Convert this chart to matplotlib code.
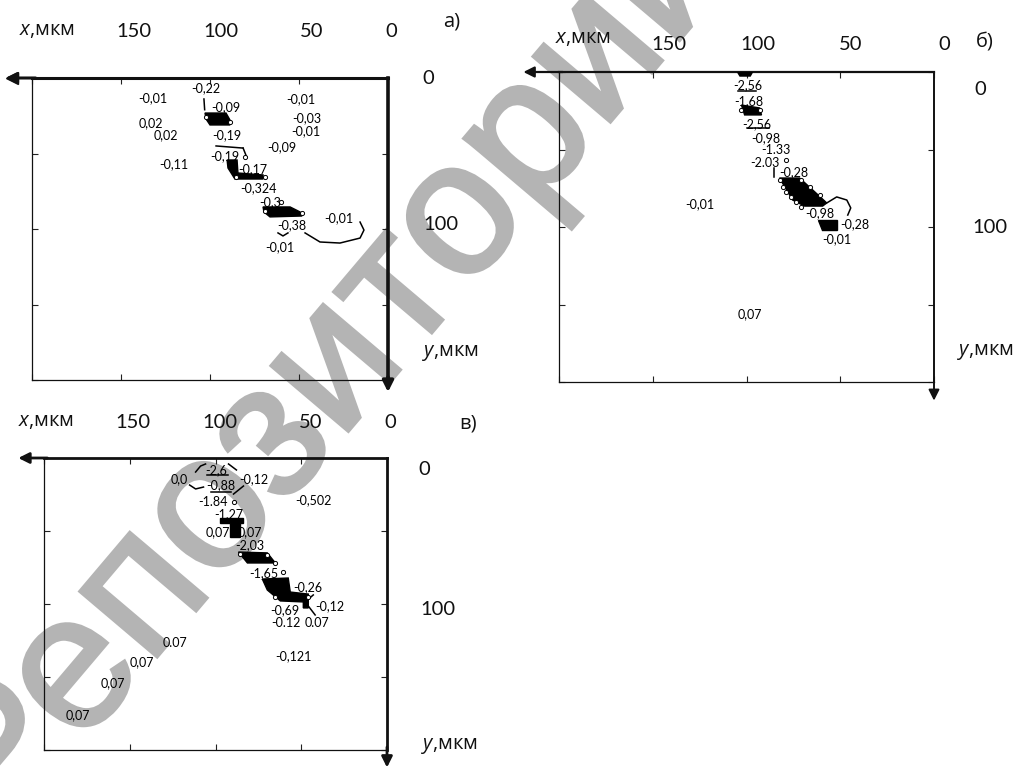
import math
import matplotlib
matplotlib.use("Agg")
import matplotlib.pyplot as plt
import matplotlib.patheffects as pe
from matplotlib.textpath import TextPath
from matplotlib.font_manager import FontProperties

plt.rcParams['font.family'] = ['Lato', 'Open Sans', 'DejaVu Sans']
plt.rcParams['mathtext.fontset'] = 'custom'
plt.rcParams['mathtext.it'] = 'Open Sans:italic'
plt.rcParams['mathtext.rm'] = 'Open Sans'

W, H = 1016, 769
LIMIT = 200
TICKS = [0, 50, 100, 150, 200]

# ---------- panel a ----------
a_label_x = [102.2, 91.0, 132, 48.9, 133.1, 124.7, 45.5, 46.1, 90.4, 59.6, 91.6, 120.2, 75.8, 72.5, 66.3, 53.9, 27.5, 60.7]
a_label_y = [6.6, 19.2, 13.2, 13.9, 29.8, 37.7, 26.5, 35.1, 37.7, 45.7, 51.7, 57, 60.3, 72.8, 82.1, 97.4, 92.7, 111.9]
a_labels = ['-0,22', '-0,09', '-0,01', '-0,01', '0,02', '0,02', '-0,03', '-0,01', '-0,19', '-0,09', '-0,19', '-0,11',
            '-0,17', '-0,324', '-0,3', '-0,38', '-0,01', '-0,01']
a_blobs = [
    ([102.8, 91, 88.8, 88.8, 100, 102.2], [23.2, 23.2, 27.8, 31.1, 31.1, 27.2]),
    ([90.4, 84.8, 84.3, 70.2, 70.2, 86, 89.9], [54.3, 54.3, 62.9, 64.2, 66.9, 66.9, 59.6]),
    ([70.2, 55, 49.4, 48.3, 66.3, 69.7], [85.4, 85.4, 88.7, 91.4, 92, 88.7]),
]
a_curves = [
    ([46.6, 38.2, 27, 15.7, 13.5, 15.7], [102.6, 108.6, 109.3, 106, 100.7, 95.4]),
    ([96.6, 81.5], [45, 46.4]),
    ([61.8, 59, 56.2], [102.6, 104.6, 102.6]),
    ([103.4, 103], [13.9, 21]),
    ([81.4, 79.5], [46.4, 52]),
]
a_scallop_x = [102.2, 88.8, 85.4, 69.1, 69.1, 48.3, 80.3, 60]
a_scallop_y = [25.8, 29.1, 65.6, 65.6, 88.1, 89.4, 52.3, 82]
a_tick_label_x = [142.7, 93.8, 42.7, -1.7]
a_tick_label_y = -30.5
a_right_label_x = [-22.5, -29.8]
a_right_label_y = [0.5, 96.7]

# ---------- panel b ----------
b_label_x = [99.5, 98.9, 94.7, 89.8, 84.5, 90.4, 74.9, 125.1, 61, 42.2, 51.9, 98.4]
b_label_y = [8.4, 18.7, 33.5, 42.6, 50.3, 58.7, 64.5, 85.2, 91, 98.1, 107.7, 156.1]
b_labels = ['-2,56', '-1,68', '-2,56', '-0,98', '-1.33', '-2.03', '-0,28', '-0,01', '-0,98', '-0,28', '-0,01', '0,07']
b_blobs = [
    ([104.8, 96.8, 98, 103.5], [0, 0, 2.6, 2.6]),
    ([102.7, 93, 92, 101], [21.3, 23.2, 27.7, 27.7]),
    ([82.4, 71.7, 64.7, 57.2, 59.4, 69, 75.4], [68.4, 68.4, 76.1, 84.5, 86.5, 86.5, 82.6]),
    ([62, 51.9, 51.9, 59.9], [95.5, 95.5, 101.9, 101.9]),
]
b_curves = [
    ([57.2, 51.9, 46.5, 44.4, 46], [84.5, 80.6, 82.6, 87.7, 92.3]),
    ([104.8, 95.2], [12.3, 12.3]),
    ([99.5, 88.2], [36.1, 36.1]),
    ([85.6, 85.6], [61.9, 67.7]),
]
b_scallop_x = [82.4, 80.6, 78.8, 76.1, 73.4, 70.8, 66.3, 61, 70.8, 102.7, 93, 79.1]
b_scallop_y = [69.7, 74, 77.2, 80.4, 83.7, 86.9, 74, 79.4, 69.7, 24.5, 24.5, 56.8]
b_tick_label_x = [141.2, 94.1, 44.4, -5.3]
b_tick_label_y = -18
b_right_label_x = [-24.6, -30]
b_right_label_y = [11.6, 100.6]

# ---------- panel c ----------
c_label_x = [99.4, 120.9, 77.9, 97.1, 101.7, 43, 92.4, 98.8, 80.2, 80.2, 72.1, 45.9, 33.1, 59.3, 58.7, 40.7, 54.7, 123.8, 143, 159.9, 180.2]
c_label_y = [8.2, 14.4, 14.4, 18.5, 30.1, 28.8, 38.4, 50.7, 50.7, 59.6, 78.8, 88.4, 101.4, 104.1, 113, 113, 135.6, 126.7, 139.7, 154.1, 176]
c_labels = ['-2,6', '0,0', '-0,12', '-0,88', '-1.84', '-0,502', '-1,27', '0,07', '0,07', '-2,03', '-1,65', '-0,26',
            '-0,12', '-0,69', '-0.12', '0.07', '-0,121', '0.07', '0,07', '0,07', '0,07']
c_blobs = [
    ([97.1, 83.7, 83.7, 85.5, 85.5, 91.3, 91.3, 97.1], [41.1, 41.1, 44.5, 44.5, 54.1, 54.1, 44.5, 44.5]),
    ([86.6, 69.8, 65.1, 81.4], [64.4, 65, 71.9, 71.9]),
    ([72.7, 57.6, 56.4, 45.9, 45.9, 48.8, 48.8, 62.2, 69.8], [82.9, 82.2, 91.8, 93.2, 102.7, 102.7, 98.6, 97.9, 90.4]),
]
c_curves = [
    ([104.7, 93], [11.6, 11.6]),
    ([102.9, 90.7], [23.3, 23.3]),
    ([111.6, 108.7, 105.8], [9.6, 5.5, 4.1]),
    ([92.4, 87.8], [4.1, 8.2]),
    ([115.1, 111.6, 107], [18.5, 21.2, 19.9]),
    ([89.5, 83.7], [24.7, 19.2]),
    ([47.7, 43], [98.6, 93.8]),
    ([47.7, 41.9], [98.6, 107.5]),
]
c_scallop_x = [85.5, 69.8, 65.1, 60.5, 65.1, 45.9, 89.5]
c_scallop_y = [65.8, 66.4, 71.9, 78.1, 95.2, 95.2, 30.1]
c_tick_label_x = [148.3, 97.7, 44.8, -1.7]
c_tick_label_y = -24
c_right_label_x = [-22, -29.6]
c_right_label_y = [8.2, 104]


def panel(box, lx, ly, labels, blobs, curves, sx, sy, tlx, tly, rlx, rly, top_lw, right_lw, arrow_x, arrow_y):
    left, right, top, bottom = box
    ax = fig.add_axes([left / W, 1 - bottom / H, (right - left) / W, (bottom - top) / H])
    ax.patch.set_alpha(0)
    ax.set_xlim(LIMIT, 0)
    ax.set_ylim(LIMIT, 0)
    ax.set_xticks(TICKS)
    ax.set_yticks(TICKS)
    ax.tick_params(direction='in', length=4, width=0.8, top=True, bottom=True, left=True, right=True,
                   labelleft=False, labelbottom=False, color='#222222')
    for s in ('left', 'bottom'):
        ax.spines[s].set_linewidth(0.9)
    ax.spines['top'].set_linewidth(top_lw)
    ax.spines['right'].set_linewidth(right_lw)
    for s in ax.spines.values():
        s.set_color('#111111')
    ax.annotate('', xy=(arrow_x, 0), xytext=(LIMIT - 2, 0), annotation_clip=False,
                arrowprops=dict(arrowstyle='-|>', lw=top_lw, color='#111111', shrinkA=0, shrinkB=0, mutation_scale=16))
    ax.annotate('', xy=(0, arrow_y), xytext=(0, LIMIT - 2), annotation_clip=False,
                arrowprops=dict(arrowstyle='-|>', lw=right_lw, color='#111111', shrinkA=0, shrinkB=0, mutation_scale=16))
    for bx, by in blobs:
        ax.fill(bx, by, color='black', lw=1.0, zorder=3)
    ax.plot(sx, sy, ls='none', marker='o', ms=3, mfc='white', mec='black', mew=0.7, zorder=3.5)
    for cx, cy in curves:
        ax.plot(cx, cy, color='black', lw=1.1, zorder=3)
    for x, y, t in zip(lx, ly, labels):
        ax.text(x, y, t, fontsize=9, ha='center', va='center', color='black', zorder=4)
    for x, t in zip(tlx, ['150', '100', '50', '0']):
        ax.text(x, tly, t, fontsize=14.5, ha='center', va='center', color='#111111', clip_on=False)
    for x, y, t in zip(rlx, rly, ['0', '100']):
        ax.text(x, y, t, fontsize=14.5, ha='center', va='center', color='#111111', clip_on=False)
    return ax


fig = plt.figure(figsize=(W / 100, H / 100), dpi=100, facecolor='white')

# watermark: aligned so that the two letters "о" land on their places in the reference
WM = 'Репозиторий'
wm_fp = FontProperties(family='Liberation Sans')


def wm_width(s):
    return (TextPath((0, 0), s + '|', size=100, prop=wm_fp).get_extents().x1
            - TextPath((0, 0), '|', size=100, prop=wm_fp).get_extents().x1)


o_w = wm_width('о')
d1 = wm_width('Реп') + o_w / 2
d2 = wm_width('Репозит') + o_w / 2
o1 = (212, 515)
o2 = (462, 220)
dist = math.hypot(o2[0] - o1[0], o2[1] - o1[1])
angle = math.atan2(o1[1] - o2[1], o2[0] - o1[0])
em = dist * 100 / (d2 - d1)
ux, uy = math.cos(angle), -math.sin(angle)
upx, upy = -math.sin(angle), -math.cos(angle)
ax0 = o1[0] - ux * d1 * em / 100 - upx * 0.26 * em
ay0 = o1[1] - uy * d1 * em / 100 - upy * 0.26 * em
fig.text(ax0 / W, 1 - ay0 / H, WM, fontproperties=wm_fp, fontsize=em * 0.72, rotation=math.degrees(angle),
         ha='left', va='baseline', rotation_mode='anchor', color='#b4b4b4', zorder=-1,
         path_effects=[pe.withStroke(linewidth=2.5, foreground='#b4b4b4', joinstyle='miter')])

ax_a = panel((32, 388, 78, 380), a_label_x, a_label_y, a_labels, a_blobs, a_curves, a_scallop_x, a_scallop_y,
             a_tick_label_x, a_tick_label_y, a_right_label_x, a_right_label_y, 2.2, 2.6, 215, 208)
ax_a.plot([211], [0], marker='<', ms=8, color='#111111', clip_on=False, zorder=5)
panel((559, 934, 72, 382), b_label_x, b_label_y, b_labels, b_blobs, b_curves, b_scallop_x, b_scallop_y,
      b_tick_label_x, b_tick_label_y, b_right_label_x, b_right_label_y, 1.6, 1.4, 219, 212)
panel((44, 387, 458, 750), c_label_x, c_label_y, c_labels, c_blobs, c_curves, c_scallop_x, c_scallop_y,
      c_tick_label_x, c_tick_label_y, c_right_label_x, c_right_label_y, 2, 2, 215, 212)

captions = [(47, 30, r'$\mathit{x}$,мкм'), (452, 22, 'а)'), (450, 353, r'$\mathit{y}$,мкм'),
            (583, 38, r'$\mathit{x}$,мкм'), (985, 42, 'б)'), (985, 352, r'$\mathit{y}$,мкм'),
            (46, 421, r'$\mathit{x}$,мкм'), (468, 423, 'в)'), (449, 746, r'$\mathit{y}$,мкм')]
for px, py, t in captions:
    fig.text(px / W, 1 - py / H, t, fontsize=14.5, family=['Open Sans', 'DejaVu Sans'], ha='center', va='center',
             color='#111111')

fig.savefig('out.png', dpi=100)
